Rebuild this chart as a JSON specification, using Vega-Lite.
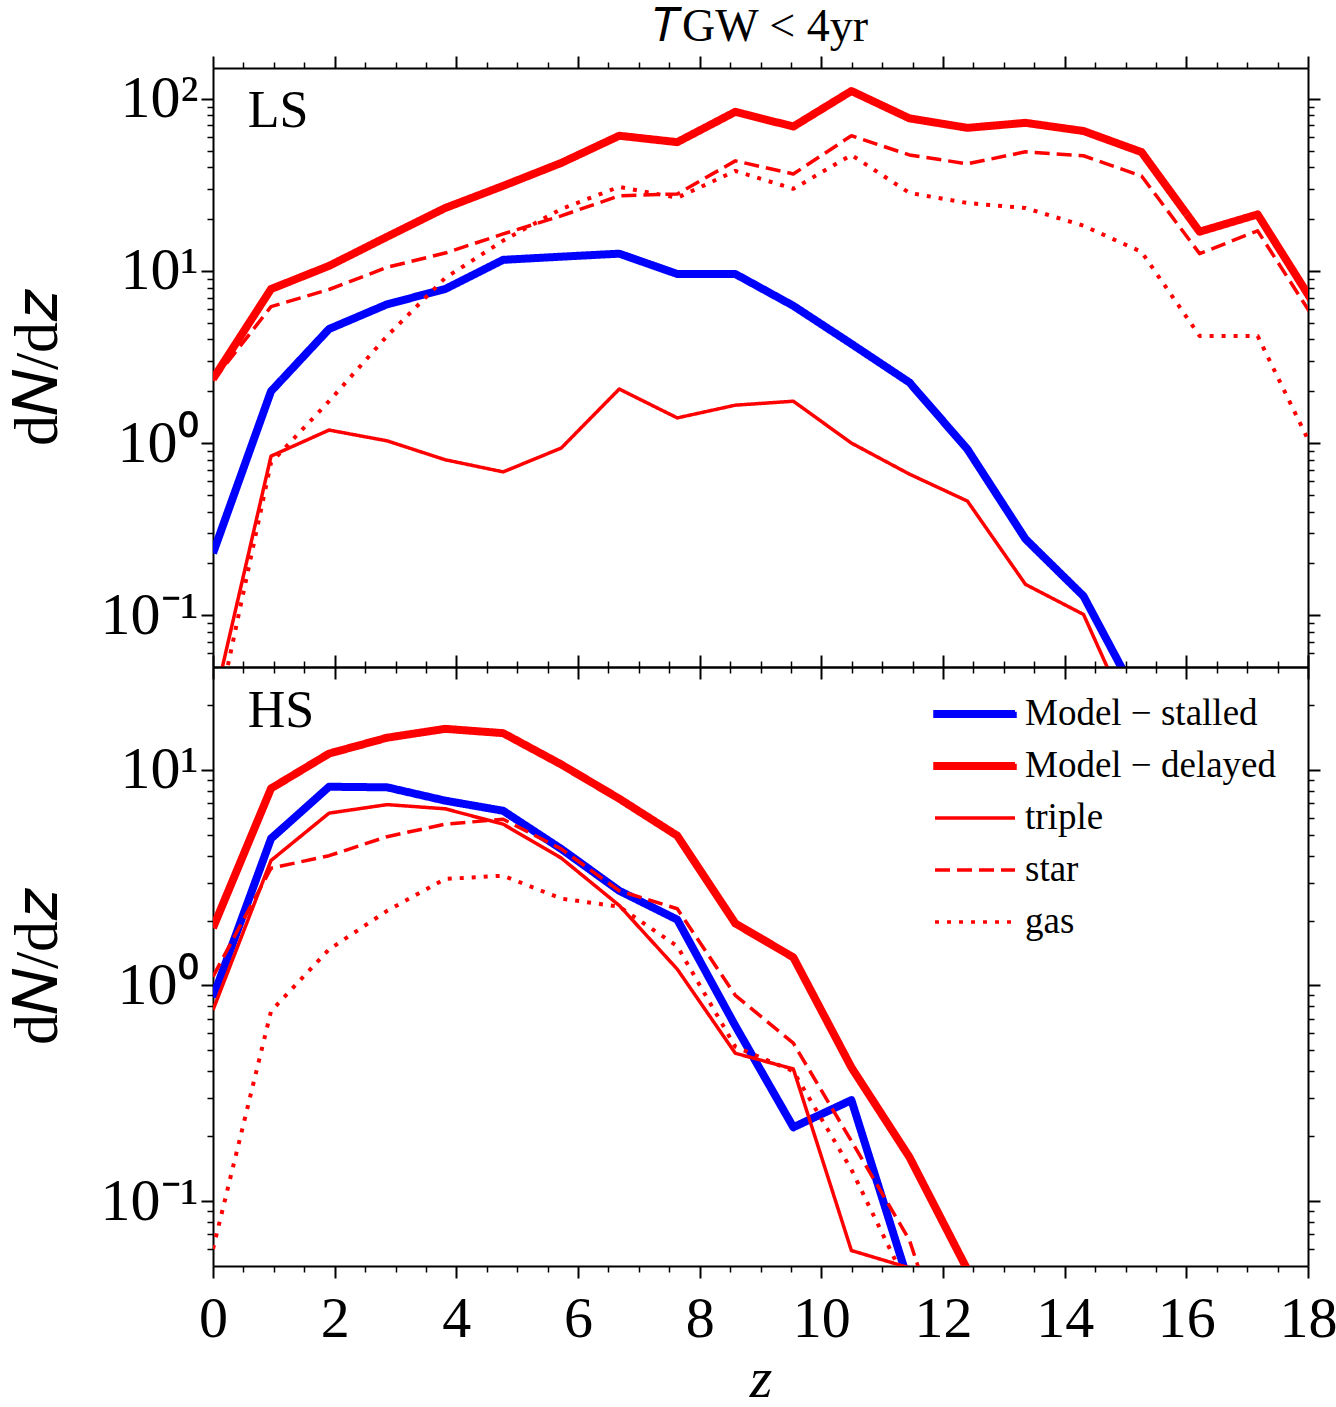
{
  "$schema": "https://vega.github.io/schema/vega-lite/v6.json",
  "background": "white",
  "padding": {"left": 6, "top": 4, "right": 2, "bottom": 0},
  "config": {
    "font": "Liberation Serif",
    "view": {"stroke": null},
    "axis": {"grid": false, "domainColor": "black", "domainWidth": 2, "tickColor": "black", "tickWidth": 2, "labelColor": "black", "titleColor": "black", "labelFont": "Liberation Serif", "titleFont": "Liberation Serif", "titleFontWeight": "normal", "labelFlush": false, "labelOverlap": false, "labelBound": false},
    "text": {"font": "Liberation Serif"}
  },
  "datasets": {
    "ls": [
      {"z":0,"v":0.229,"s":"Model − stalled"},{"z":0.954,"v":2.0,"s":"Model − stalled"},{"z":1.908,"v":4.6,"s":"Model − stalled"},{"z":2.862,"v":6.4,"s":"Model − stalled"},{"z":3.816,"v":7.85,"s":"Model − stalled"},{"z":4.77,"v":11.6,"s":"Model − stalled"},{"z":5.724,"v":12.1,"s":"Model − stalled"},{"z":6.678,"v":12.6,"s":"Model − stalled"},{"z":7.632,"v":9.6,"s":"Model − stalled"},{"z":8.586,"v":9.6,"s":"Model − stalled"},{"z":9.54,"v":6.27,"s":"Model − stalled"},{"z":10.494,"v":3.77,"s":"Model − stalled"},{"z":11.448,"v":2.25,"s":"Model − stalled"},{"z":12.402,"v":0.92,"s":"Model − stalled"},{"z":13.356,"v":0.277,"s":"Model − stalled"},{"z":14.31,"v":0.129,"s":"Model − stalled"},{"z":15.264,"v":0.03,"s":"Model − stalled"},
      {"z":0,"v":2.36,"s":"Model − delayed"},{"z":0.954,"v":7.85,"s":"Model − delayed"},{"z":1.908,"v":10.7,"s":"Model − delayed"},{"z":2.862,"v":15.8,"s":"Model − delayed"},{"z":3.816,"v":23.2,"s":"Model − delayed"},{"z":4.77,"v":31.2,"s":"Model − delayed"},{"z":5.724,"v":42.4,"s":"Model − delayed"},{"z":6.678,"v":61,"s":"Model − delayed"},{"z":7.632,"v":56,"s":"Model − delayed"},{"z":8.586,"v":84,"s":"Model − delayed"},{"z":9.54,"v":69,"s":"Model − delayed"},{"z":10.494,"v":111,"s":"Model − delayed"},{"z":11.448,"v":77,"s":"Model − delayed"},{"z":12.402,"v":67.8,"s":"Model − delayed"},{"z":13.356,"v":72.5,"s":"Model − delayed"},{"z":14.31,"v":65,"s":"Model − delayed"},{"z":15.264,"v":49,"s":"Model − delayed"},{"z":16.218,"v":16.9,"s":"Model − delayed"},{"z":17.172,"v":21.3,"s":"Model − delayed"},{"z":18.126,"v":6.2,"s":"Model − delayed"},
      {"z":0,"v":0.029,"s":"triple"},{"z":0.954,"v":0.84,"s":"triple"},{"z":1.908,"v":1.19,"s":"triple"},{"z":2.862,"v":1.03,"s":"triple"},{"z":3.816,"v":0.8,"s":"triple"},{"z":4.77,"v":0.68,"s":"triple"},{"z":5.724,"v":0.935,"s":"triple"},{"z":6.678,"v":2.06,"s":"triple"},{"z":7.632,"v":1.4,"s":"triple"},{"z":8.586,"v":1.66,"s":"triple"},{"z":9.54,"v":1.75,"s":"triple"},{"z":10.494,"v":1.0,"s":"triple"},{"z":11.448,"v":0.66,"s":"triple"},{"z":12.402,"v":0.46,"s":"triple"},{"z":13.356,"v":0.151,"s":"triple"},{"z":14.31,"v":0.101,"s":"triple"},{"z":15.264,"v":0.018,"s":"triple"},
      {"z":0,"v":2.3,"s":"star"},{"z":0.954,"v":6.2,"s":"star"},{"z":1.908,"v":7.8,"s":"star"},{"z":2.862,"v":10.5,"s":"star"},{"z":3.816,"v":12.7,"s":"star"},{"z":4.77,"v":16.4,"s":"star"},{"z":5.724,"v":20.9,"s":"star"},{"z":6.678,"v":27.3,"s":"star"},{"z":7.632,"v":28,"s":"star"},{"z":8.586,"v":43.6,"s":"star"},{"z":9.54,"v":36.6,"s":"star"},{"z":10.494,"v":61,"s":"star"},{"z":11.448,"v":47.2,"s":"star"},{"z":12.402,"v":41.9,"s":"star"},{"z":13.356,"v":49.2,"s":"star"},{"z":14.31,"v":46.7,"s":"star"},{"z":15.264,"v":35.6,"s":"star"},{"z":16.218,"v":12.6,"s":"star"},{"z":17.172,"v":17.1,"s":"star"},{"z":18.126,"v":5.1,"s":"star"},
      {"z":0,"v":0.02,"s":"gas"},{"z":0.954,"v":0.77,"s":"gas"},{"z":1.908,"v":1.75,"s":"gas"},{"z":2.862,"v":4.19,"s":"gas"},{"z":3.816,"v":9.1,"s":"gas"},{"z":4.77,"v":15,"s":"gas"},{"z":5.724,"v":22.9,"s":"gas"},{"z":6.678,"v":30.8,"s":"gas"},{"z":7.632,"v":26.6,"s":"gas"},{"z":8.586,"v":38.1,"s":"gas"},{"z":9.54,"v":30,"s":"gas"},{"z":10.494,"v":47.2,"s":"gas"},{"z":11.448,"v":28.4,"s":"gas"},{"z":12.402,"v":24.8,"s":"gas"},{"z":13.356,"v":23.2,"s":"gas"},{"z":14.31,"v":18.3,"s":"gas"},{"z":15.264,"v":12.9,"s":"gas"},{"z":16.218,"v":4.19,"s":"gas"},{"z":17.172,"v":4.19,"s":"gas"},{"z":18.126,"v":0.85,"s":"gas"}
    ],
    "hs": [
      {"z":0,"v":0.88,"s":"Model − stalled"},{"z":0.954,"v":4.8,"s":"Model − stalled"},{"z":1.908,"v":8.35,"s":"Model − stalled"},{"z":2.862,"v":8.3,"s":"Model − stalled"},{"z":3.816,"v":7.2,"s":"Model − stalled"},{"z":4.77,"v":6.46,"s":"Model − stalled"},{"z":5.724,"v":4.3,"s":"Model − stalled"},{"z":6.678,"v":2.75,"s":"Model − stalled"},{"z":7.632,"v":2.02,"s":"Model − stalled"},{"z":8.586,"v":0.65,"s":"Model − stalled"},{"z":9.54,"v":0.22,"s":"Model − stalled"},{"z":10.494,"v":0.294,"s":"Model − stalled"},{"z":11.448,"v":0.041,"s":"Model − stalled"},
      {"z":0,"v":1.85,"s":"Model − delayed"},{"z":0.954,"v":8.2,"s":"Model − delayed"},{"z":1.908,"v":11.9,"s":"Model − delayed"},{"z":2.862,"v":14.1,"s":"Model − delayed"},{"z":3.816,"v":15.5,"s":"Model − delayed"},{"z":4.77,"v":14.8,"s":"Model − delayed"},{"z":5.724,"v":10.6,"s":"Model − delayed"},{"z":6.678,"v":7.35,"s":"Model − delayed"},{"z":7.632,"v":4.95,"s":"Model − delayed"},{"z":8.586,"v":1.94,"s":"Model − delayed"},{"z":9.54,"v":1.35,"s":"Model − delayed"},{"z":10.494,"v":0.417,"s":"Model − delayed"},{"z":11.448,"v":0.16,"s":"Model − delayed"},{"z":12.402,"v":0.048,"s":"Model − delayed"},{"z":13.356,"v":0.01,"s":"Model − delayed"},
      {"z":0,"v":0.77,"s":"triple"},{"z":0.954,"v":3.8,"s":"triple"},{"z":1.908,"v":6.3,"s":"triple"},{"z":2.862,"v":6.9,"s":"triple"},{"z":3.816,"v":6.6,"s":"triple"},{"z":4.77,"v":5.6,"s":"triple"},{"z":5.724,"v":3.9,"s":"triple"},{"z":6.678,"v":2.35,"s":"triple"},{"z":7.632,"v":1.19,"s":"triple"},{"z":8.586,"v":0.485,"s":"triple"},{"z":9.54,"v":0.41,"s":"triple"},{"z":10.494,"v":0.059,"s":"triple"},{"z":11.448,"v":0.049,"s":"triple"},{"z":12.402,"v":0.01,"s":"triple"},
      {"z":0,"v":1.1,"s":"star"},{"z":0.954,"v":3.5,"s":"star"},{"z":1.908,"v":4.0,"s":"star"},{"z":2.862,"v":4.9,"s":"star"},{"z":3.816,"v":5.6,"s":"star"},{"z":4.77,"v":5.9,"s":"star"},{"z":5.724,"v":4.3,"s":"star"},{"z":6.678,"v":2.75,"s":"star"},{"z":7.632,"v":2.27,"s":"star"},{"z":8.586,"v":0.9,"s":"star"},{"z":9.54,"v":0.54,"s":"star"},{"z":10.494,"v":0.19,"s":"star"},{"z":11.448,"v":0.066,"s":"star"},{"z":12.402,"v":0.01,"s":"star"},
      {"z":0,"v":0.06,"s":"gas"},{"z":0.954,"v":0.76,"s":"gas"},{"z":1.908,"v":1.47,"s":"gas"},{"z":2.862,"v":2.22,"s":"gas"},{"z":3.816,"v":3.12,"s":"gas"},{"z":4.77,"v":3.23,"s":"gas"},{"z":5.724,"v":2.53,"s":"gas"},{"z":6.678,"v":2.32,"s":"gas"},{"z":7.632,"v":1.52,"s":"gas"},{"z":8.586,"v":0.52,"s":"gas"},{"z":9.54,"v":0.4,"s":"gas"},{"z":10.494,"v":0.14,"s":"gas"},{"z":11.448,"v":0.039,"s":"gas"}
    ],
    "lslab": [{"z":0.57,"v":85,"t":"LS"}],
    "hslab": [{"z":0.57,"v":18.8,"t":"HS"}]
  },
  "vconcat": [
    {
      "width": 1095, "height": 599,
      "title": {"text": "𝑇GW < 4yr", "fontSize": 46, "fontWeight": "normal", "font": "Liberation Serif", "anchor": "middle", "frame": "group", "offset": 4, "color": "black"},
      "layer": [
        {
          "data": {"name": "ls"},
          "mark": {"type": "line", "clip": true, "strokeCap": "butt", "strokeJoin": "round"},
          "encoding": {
            "x": {"field": "z", "type": "quantitative", "scale": {"domain": [0, 18], "nice": false, "zero": false},
                  "axis": {"orient": "bottom", "values": [0,2,4,6,8,10,12,14,16,18], "labels": false, "title": null, "tickSize": 12}},
            "y": {"field": "v", "type": "quantitative", "scale": {"type": "log", "domain": [0.05, 151], "nice": false},
                  "axis": {"orient": "left", "values": [0.1, 1, 10, 100], "labelExpr": "datum.value >= 100 ? '10²' : datum.value >= 10 ? '10¹' : datum.value >= 1 ? '10⁰' : '10⁻¹'", "labelFontSize": 60, "labelPadding": 3, "labelBaseline": "middle", "tickSize": 12, "title": "d𝑁/d𝑧", "titleFontSize": 62, "titleX": -176, "titleBaseline": "middle"}},
            "color": {"field": "s", "type": "nominal", "scale": {"domain": ["Model − stalled", "Model − delayed", "triple", "star", "gas"], "range": ["#0000ff", "#ff0000", "#ff0000", "#ff0000", "#ff0000"]}, "legend": null},
            "strokeDash": {"field": "s", "type": "nominal", "scale": {"domain": ["Model − stalled", "Model − delayed", "triple", "star", "gas"], "range": [[1, 0], [1, 0], [1, 0], [15, 7], [4, 8]]}, "legend": null},
            "strokeWidth": {"condition": [{"test": "indexof(datum.s, 'Model') == 0", "value": 8}, {"test": "datum.s == 'gas'", "value": 4}], "value": 3.5}
          }
        },
        {
          "data": {"name": "lslab"},
          "mark": {"type": "text", "align": "left", "baseline": "middle", "fontSize": 52, "color": "black"},
          "encoding": {
            "x": {"field": "z", "type": "quantitative", "scale": {"domain": [0, 18], "nice": false, "zero": false}, "axis": {"orient": "top", "values": [0,2,4,6,8,10,12,14,16,18], "labels": false, "title": null, "tickSize": 12}},
            "y": {"field": "v", "type": "quantitative", "scale": {"type": "log", "domain": [0.05, 151], "nice": false}, "axis": {"orient": "right", "values": [0.1, 1, 10, 100], "labels": false, "title": null, "tickSize": 12}},
            "text": {"field": "t"}
          }
        },
        {
          "data": {"name": "lslab"},
          "mark": {"type": "text", "opacity": 0},
          "encoding": {
            "x": {"field": "z", "type": "quantitative", "scale": {"domain": [0, 18], "nice": false, "zero": false}, "axis": {"orient": "bottom", "values": [0.5,1,1.5,2.5,3,3.5,4.5,5,5.5,6.5,7,7.5,8.5,9,9.5,10.5,11,11.5,12.5,13,13.5,14.5,15,15.5,16.5,17,17.5], "labels": false, "title": null, "tickSize": 6, "tickWidth": 1.5, "domain": false}},
            "y": {"field": "v", "type": "quantitative", "scale": {"type": "log", "domain": [0.05, 151], "nice": false}, "axis": {"orient": "left", "values": [0.06,0.07,0.08,0.09,0.2,0.3,0.4,0.5,0.6,0.7,0.8,0.9,2,3,4,5,6,7,8,9,20,30,40,50,60,70,80,90], "labels": false, "title": null, "tickSize": 6, "tickWidth": 1.5, "domain": false}},
            "text": {"field": "t"}
          }
        },
        {
          "data": {"name": "lslab"},
          "mark": {"type": "text", "opacity": 0},
          "encoding": {
            "x": {"field": "z", "type": "quantitative", "scale": {"domain": [0, 18], "nice": false, "zero": false}, "axis": {"orient": "top", "values": [0.5,1,1.5,2.5,3,3.5,4.5,5,5.5,6.5,7,7.5,8.5,9,9.5,10.5,11,11.5,12.5,13,13.5,14.5,15,15.5,16.5,17,17.5], "labels": false, "title": null, "tickSize": 6, "tickWidth": 1.5, "domain": false}},
            "y": {"field": "v", "type": "quantitative", "scale": {"type": "log", "domain": [0.05, 151], "nice": false}, "axis": {"orient": "right", "values": [0.06,0.07,0.08,0.09,0.2,0.3,0.4,0.5,0.6,0.7,0.8,0.9,2,3,4,5,6,7,8,9,20,30,40,50,60,70,80,90], "labels": false, "title": null, "tickSize": 6, "tickWidth": 1.5, "domain": false}},
            "text": {"field": "t"}
          }
        }
      ],
      "resolve": {"axis": {"x": "independent", "y": "independent"}}
    },
    {
      "width": 1095, "height": 599,
      "layer": [
        {
          "data": {"name": "hs"},
          "mark": {"type": "line", "clip": true, "strokeCap": "butt", "strokeJoin": "round"},
          "encoding": {
            "x": {"field": "z", "type": "quantitative", "scale": {"domain": [0, 18], "nice": false, "zero": false},
                  "axis": {"orient": "bottom", "values": [0,2,4,6,8,10,12,14,16,18], "labelFontSize": 58, "labelPadding": 12, "tickSize": 12, "title": "z", "titleFontStyle": "italic", "titleFontSize": 58, "titlePadding": 2}},
            "y": {"field": "v", "type": "quantitative", "scale": {"type": "log", "domain": [0.05, 30], "nice": false},
                  "axis": {"orient": "left", "values": [0.1, 1, 10], "labelExpr": "datum.value >= 10 ? '10¹' : datum.value >= 1 ? '10⁰' : '10⁻¹'", "labelFontSize": 60, "labelPadding": 3, "labelBaseline": "middle", "tickSize": 12, "title": "d𝑁/d𝑧", "titleFontSize": 62, "titleX": -176, "titleBaseline": "middle"}},
            "color": {"field": "s", "type": "nominal", "scale": {"domain": ["Model − stalled", "Model − delayed", "triple", "star", "gas"], "range": ["#0000ff", "#ff0000", "#ff0000", "#ff0000", "#ff0000"]},
                      "legend": {"orient": "none", "legendX": 740, "legendY": 25, "title": null, "padding": 0, "symbolType": "M-2,0H2", "symbolSize": 1600, "symbolStrokeWidth": 3.5, "labelFontSize": 37, "labelFont": "Liberation Serif", "labelColor": "black", "labelOffset": 28, "rowPadding": 12, "labelLimit": 500,
                                 "encode": {"symbols": {"update": {"shape": {"signal": "indexof(datum.value, 'Model') == 0 ? 'M-2,-0.115H2V0.115H-2Z' : 'M-2,0H2'"}, "fill": {"signal": "indexof(datum.value, 'stalled') > 0 ? '#0000ff' : '#ff0000'"}, "strokeDash": {"signal": "datum.value == 'star' ? [15, 7] : datum.value == 'gas' ? [4, 8] : [1, 0]"}, "strokeCap": {"value": "butt"}}}}}},
            "strokeDash": {"field": "s", "type": "nominal", "scale": {"domain": ["Model − stalled", "Model − delayed", "triple", "star", "gas"], "range": [[1, 0], [1, 0], [1, 0], [15, 7], [4, 8]]}, "legend": null},
            "strokeWidth": {"condition": [{"test": "indexof(datum.s, 'Model') == 0", "value": 8}, {"test": "datum.s == 'gas'", "value": 4}], "value": 3.5}
          }
        },
        {
          "data": {"name": "hslab"},
          "mark": {"type": "text", "align": "left", "baseline": "middle", "fontSize": 52, "color": "black"},
          "encoding": {
            "x": {"field": "z", "type": "quantitative", "scale": {"domain": [0, 18], "nice": false, "zero": false}, "axis": {"orient": "top", "values": [0,2,4,6,8,10,12,14,16,18], "labels": false, "title": null, "tickSize": 12}},
            "y": {"field": "v", "type": "quantitative", "scale": {"type": "log", "domain": [0.05, 30], "nice": false}, "axis": {"orient": "right", "values": [0.1, 1, 10], "labels": false, "title": null, "tickSize": 12}},
            "text": {"field": "t"}
          }
        },
        {
          "data": {"name": "hslab"},
          "mark": {"type": "text", "opacity": 0},
          "encoding": {
            "x": {"field": "z", "type": "quantitative", "scale": {"domain": [0, 18], "nice": false, "zero": false}, "axis": {"orient": "bottom", "values": [0.5,1,1.5,2.5,3,3.5,4.5,5,5.5,6.5,7,7.5,8.5,9,9.5,10.5,11,11.5,12.5,13,13.5,14.5,15,15.5,16.5,17,17.5], "labels": false, "title": null, "tickSize": 6, "tickWidth": 1.5, "domain": false}},
            "y": {"field": "v", "type": "quantitative", "scale": {"type": "log", "domain": [0.05, 30], "nice": false}, "axis": {"orient": "left", "values": [0.06,0.07,0.08,0.09,0.2,0.3,0.4,0.5,0.6,0.7,0.8,0.9,2,3,4,5,6,7,8,9,20], "labels": false, "title": null, "tickSize": 6, "tickWidth": 1.5, "domain": false}},
            "text": {"field": "t"}
          }
        },
        {
          "data": {"name": "hslab"},
          "mark": {"type": "text", "opacity": 0},
          "encoding": {
            "x": {"field": "z", "type": "quantitative", "scale": {"domain": [0, 18], "nice": false, "zero": false}, "axis": {"orient": "top", "values": [0.5,1,1.5,2.5,3,3.5,4.5,5,5.5,6.5,7,7.5,8.5,9,9.5,10.5,11,11.5,12.5,13,13.5,14.5,15,15.5,16.5,17,17.5], "labels": false, "title": null, "tickSize": 6, "tickWidth": 1.5, "domain": false}},
            "y": {"field": "v", "type": "quantitative", "scale": {"type": "log", "domain": [0.05, 30], "nice": false}, "axis": {"orient": "right", "values": [0.06,0.07,0.08,0.09,0.2,0.3,0.4,0.5,0.6,0.7,0.8,0.9,2,3,4,5,6,7,8,9,20], "labels": false, "title": null, "tickSize": 6, "tickWidth": 1.5, "domain": false}},
            "text": {"field": "t"}
          }
        }
      ],
      "resolve": {"axis": {"x": "independent", "y": "independent"}}
    }
  ],
  "spacing": 0,
  "bounds": "flush",
  "resolve": {"legend": {"color": "independent"}}
}
